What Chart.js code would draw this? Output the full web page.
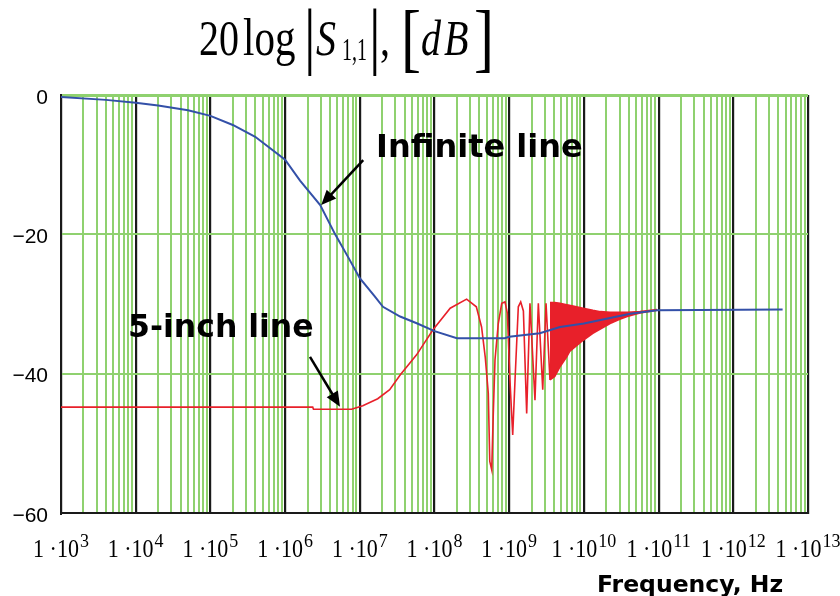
<!DOCTYPE html>
<html>
<head>
<meta charset="utf-8">
<title>S11 vs frequency</title>
<script src="https://cdn.jsdelivr.net/npm/chart.js@4.4.1/dist/chart.umd.min.js"></script>
<style>
  html, body { margin: 0; padding: 0; background: #fff; }
</style>
</head>
<body>
<canvas id="chartS11" width="840" height="596"></canvas>
<script>
// Frequency axis: decades as log10(Hz)
const decades = [3, 4, 5, 6, 7, 8, 9, 10, 11, 12, 13];
const dbTicks = [0, -20, -40, -60];

// Infinite line: log10(f) and 20log|S11| (dB)
const infLogF = [3.0, 3.6, 4.0, 4.3, 4.7, 5.0, 5.3, 5.6, 6.0, 6.2, 6.47, 6.67, 6.84, 7.0, 7.2, 7.31,
  7.54, 7.77, 8.0, 8.3, 8.94, 9.0, 9.41, 9.68, 10.0, 10.35, 10.62, 10.98, 12.66];
const infDb = [-0.3, -0.7, -1.1, -1.5, -2.2, -3.0, -4.3, -6.0, -9.3, -12.3, -15.8, -20.0, -23.2, -26.3, -28.9, -30.4,
  -31.8, -32.8, -33.9, -34.9, -34.9, -34.7, -34.2, -33.3, -32.8, -32.0, -31.4, -30.9, -30.8];

// 5-inch line up to where the resonances get dense
const shortLogF = [3.0, 6.37, 6.38, 6.89, 7.04, 7.24, 7.40, 7.54, 7.76, 7.98, 8.21, 8.43, 8.56, 8.63, 8.68,
  8.72, 8.74, 8.766, 8.787, 8.81, 8.854, 8.90, 8.944, 8.975, 9.01, 9.047, 9.078, 9.122, 9.154, 9.19,
  9.234, 9.278, 9.345, 9.39, 9.449, 9.493, 9.546];
const shortDb = [-44.8, -44.8, -45.1, -45.1, -44.6, -43.6, -42.3, -40.2, -37.3, -33.7, -30.6, -29.3, -30.4, -33.3, -37.7,
  -42.8, -52.6, -53.8, -45.7, -38.0, -32.8, -29.9, -29.7, -31.3, -40.9, -48.8, -40.9, -30.4, -29.7, -31.0,
  -45.7, -29.9, -43.8, -29.9, -42.3, -29.9, -40.9];

// 5-inch line, dense resonance band: upper / lower envelope
const denseLogF = [9.546, 9.61, 9.68, 9.77, 9.81, 9.99, 10.12, 10.22, 10.35, 10.48, 10.58, 10.75, 10.98];
const denseUpper = [-29.8, -29.8, -29.9, -30.1, -30.2, -30.6, -30.9, -31.1, -31.2, -31.2, -31.2, -31.1, -30.8];
const denseLower = [-40.9, -40.4, -39.0, -37.6, -36.8, -35.2, -34.2, -33.6, -32.8, -32.2, -31.8, -31.3, -30.9];

const BLUE = "#3350a8";
const RED = "#e8202a";
const GREEN = "#8fd16f";
const BLACK = "#1a1a1a";

const toPoints = (lf, db) => lf.map((v, i) => ({ x: Math.pow(10, v), y: db[i] }));

const isDecade = (v) => {
  const l = Math.log10(v);
  return Math.abs(l - Math.round(l)) < 1e-9;
};

const serif = '"Liberation Serif", "Times New Roman", serif';
const bold = 'bold {s}px "DejaVu Sans", Verdana, sans-serif';

function arrow(ctx, x0, y0, x1, y1) {
  const a = Math.atan2(y1 - y0, x1 - x0);
  const hl = 15, hw = 6.5;
  ctx.beginPath();
  ctx.moveTo(x0, y0);
  ctx.lineTo(x1 - Math.cos(a) * hl * 0.8, y1 - Math.sin(a) * hl * 0.8);
  ctx.lineWidth = 2.5;
  ctx.strokeStyle = "#000";
  ctx.stroke();
  ctx.beginPath();
  ctx.moveTo(x1, y1);
  ctx.lineTo(x1 - Math.cos(a) * hl + Math.sin(a) * hw, y1 - Math.sin(a) * hl - Math.cos(a) * hw);
  ctx.lineTo(x1 - Math.cos(a) * hl - Math.sin(a) * hw, y1 - Math.sin(a) * hl + Math.cos(a) * hw);
  ctx.closePath();
  ctx.fillStyle = "#000";
  ctx.fill();
}

// title, decade labels and curve callouts
const decorations = {
  id: "decorations",
  afterDraw(chart) {
    const { ctx } = chart;
    const x = chart.scales.x;
    const y = chart.scales.y;

    const put = (str, px, py, font, sy) => {
      ctx.save();
      ctx.translate(px, py);
      ctx.scale(1, sy || 1);
      ctx.font = font;
      ctx.fillStyle = "#000";
      ctx.textAlign = "left";
      ctx.textBaseline = "alphabetic";
      ctx.fillText(str, 0, 0);
      ctx.restore();
    };

    // 20log|S1,1|, [dB]
    put("20", 199, 55, "40px " + serif, 1.27);
    put("log", 243, 55, "41px " + serif, 1.27);
    put("|", 304, 60, "58px " + serif, 1.27);
    put("S", 316, 55, "italic 40px " + serif, 1.27);
    put("1,1", 342, 60, "20px " + serif, 1.6);
    put("|", 369, 60, "58px " + serif, 1.27);
    put(",", 380, 55, "40px " + serif, 1.27);
    put("[", 401, 63, "60px " + serif, 1.27);
    put("d", 421, 55, "italic 40px " + serif, 1.27);
    put("B", 444, 55, "italic 40px " + serif, 1.27);
    put("]", 474, 63, "60px " + serif, 1.27);

    // decade labels 1·10^n
    decades.forEach((d) => {
      const px = x.getPixelForValue(Math.pow(10, d));
      const base = "1 \u00b710";
      const exp = String(d);
      ctx.font = "22px " + serif;
      const wb = ctx.measureText(base).width;
      ctx.font = "18px " + serif;
      const we = ctx.measureText(exp).width;
      const left = px - (wb + we + 1) / 2;
      put(base, left, 557, "22px " + serif, 1.15);
      put(exp, left + wb + 1, 547, "18px " + serif, 1.1);
    });

    // callouts
    ctx.save();
    const tipInf = { px: x.getPixelForValue(Math.pow(10, 6.47)), py: y.getPixelForValue(-15.8) };
    arrow(ctx, tipInf.px + 43, tipInf.py - 45, tipInf.px + 1, tipInf.py);
    const tipShort = { px: x.getPixelForValue(Math.pow(10, 6.735)), py: y.getPixelForValue(-44.9) };
    arrow(ctx, tipShort.px - 30, tipShort.py - 51, tipShort.px, tipShort.py - 1);
    ctx.restore();

    put("Infinite line", 376, 157, bold.replace("{s}", 32));
    put("5-inch line", 128, 337, bold.replace("{s}", 31.5));
    put("Frequency, Hz", 597, 592, bold.replace("{s}", 23.5));
  },
};

new Chart(document.getElementById("chartS11"), {
  type: "line",
  data: {
    datasets: [
      {
        label: "Infinite line",
        data: toPoints(infLogF, infDb),
        borderColor: BLUE,
        borderWidth: 2,
        pointRadius: 0,
        tension: 0,
      },
      {
        label: "5-inch line",
        data: toPoints(shortLogF, shortDb),
        borderColor: RED,
        borderWidth: 1.6,
        pointRadius: 0,
        tension: 0,
      },
      {
        label: "5-inch line (upper)",
        data: toPoints(denseLogF, denseUpper),
        borderColor: RED,
        borderWidth: 1.6,
        pointRadius: 0,
        tension: 0,
        fill: false,
      },
      {
        label: "5-inch line (lower)",
        data: toPoints(denseLogF, denseLower),
        borderColor: RED,
        backgroundColor: RED,
        borderWidth: 1.6,
        pointRadius: 0,
        tension: 0,
        fill: "-1",
      },
    ],
  },
  options: {
    responsive: false,
    animation: false,
    layout: { padding: { top: 95, right: 32, left: 0, bottom: 0 } },
    plugins: {
      legend: { display: false },
      tooltip: { enabled: false },
    },
    scales: {
      x: {
        type: "logarithmic",
        min: 1e3,
        max: 1e13,
        afterBuildTicks: (scale) => {
          const t = [];
          decades.forEach((d, i) => {
            for (let m = 1; m <= 9; m++) {
              if (i === decades.length - 1 && m > 1) break;
              t.push({ value: m * Math.pow(10, d) });
            }
          });
          scale.ticks = t;
        },
        afterFit: (scale) => {
          scale.height = 83;
        },
        ticks: { display: false },
        grid: {
          drawTicks: false,
          color: (ctx) => (ctx.tick && isDecade(ctx.tick.value) ? BLACK : GREEN),
          lineWidth: (ctx) => (ctx.tick && isDecade(ctx.tick.value) ? 2.2 : 2),
        },
        border: { color: BLACK, width: 2 },
      },
      y: {
        min: -60,
        max: 0,
        afterBuildTicks: (scale) => {
          scale.ticks = dbTicks.map((v) => ({ value: v }));
        },
        afterFit: (scale) => {
          scale.width = 61;
        },
        ticks: {
          padding: 13,
          labelOffset: 3,
          color: "#000",
          font: { family: '"Liberation Sans", Arial, sans-serif', size: 21 },
          callback: (v) => (v < 0 ? "\u2212" + Math.abs(v) : String(v)),
        },
        grid: {
          drawTicks: false,
          color: (ctx) => (ctx.tick && ctx.tick.value === -60 ? "rgba(0,0,0,0)" : GREEN),
          lineWidth: (ctx) => (ctx.tick && ctx.tick.value === 0 ? 3 : 2),
        },
        border: { color: BLACK, width: 2 },
      },
    },
  },
  plugins: [decorations],
});
</script>
</body>
</html>
